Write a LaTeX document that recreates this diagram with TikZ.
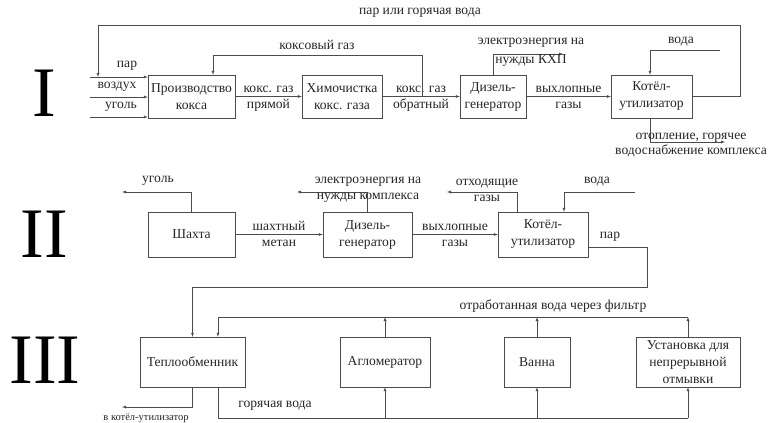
\documentclass[tikz,border=0pt]{standalone}
\usepackage{fontspec}
\setmainfont{Liberation Serif}
\usetikzlibrary{calc,shapes,arrows,positioning}

\tikzset{
  blk/.style={draw=black!70, align=center, inner sep=1pt, text=black!85,
    font=\fontsize{13.6}{17}\selectfont},
  lbl/.style={align=center, inner sep=1pt, text=black!85,
    font=\fontsize{13.6}{16}\selectfont},
  up/.style={lbl, midway, above, inner sep=1pt, text height=9.5pt, text depth=3pt},
  dn/.style={lbl, midway, below, inner sep=2pt, text height=9.5pt, text depth=3pt},
  flow/.style={draw=black!70, -latex},
  pipe/.style={draw=black!70},
  roman/.style={inner sep=0pt, font=\fontsize{71}{71}\selectfont}
}

\begin{document}
\begin{tikzpicture}[x=1pt,y=-1pt]
  \useasboundingbox (0,0) rectangle (769,423);

  % --- I ---
  \node[roman] (r1) at (44,93.5) {I};
  \node[blk, minimum width=87, minimum height=43] (prod) at (191.5,96.5) {Производство\\кокса};
  \node[blk, minimum width=80, minimum height=43] (chem) at (342,96.5) {Химочистка\\кокс. газа};
  \node[blk, minimum width=66, minimum height=43] (dg1) at (493,96.5) {Дизель-\\генератор};
  \node[blk, minimum width=81, minimum height=43] (ku1) at (651.5,96.5) {Котёл-\\утилизатор};

  \coordinate (inpar) at (90,77);
  \coordinate (inair) at (90,97);
  \coordinate (incoal) at (90,117);
  \draw[flow] (inpar) -- (prod.west |- inpar);
  \draw[flow] (inair) -- (prod.west |- inair);
  \draw[flow] (incoal) -- (prod.west |- incoal);
  \node[lbl] (lpar) at (127,66) {пар};
  \node[lbl] (lair) at (117,87) {воздух};
  \node[lbl] (lcoal) at (121,107) {уголь};

  \draw[flow] (prod) -- (chem) node[up] {кокс. газ} node[dn] {прямой};
  \draw[flow] (chem) -- (dg1) node[up] {кокс. газ} node[dn] {обратный};
  \draw[flow] (dg1) -- (ku1) node[up] {выхлопные} node[dn] {газы};

  \coordinate (cgsplit) at (422,96.5);
  \draw[flow] (cgsplit) -- (cgsplit |- 0,55) -| ($(prod.north)+(21.5,0)$);
  \node[lbl] (lcg) at (317,45) {коксовый газ};

  \coordinate (topR) at (740,25);
  \coordinate (parjoin) at (98,77);
  \draw[flow] (ku1.east) -| (topR) -| (parjoin);
  \node[lbl] (lsteam) at (420,13) {пар или горячая вода};

  \draw[flow] (dg1.north) |- (563,54);
  \node[lbl, font=\fontsize{13.6}{19}\selectfont] (lel1) at (531,52) {электроэнергия на\\нужды КХП};

  \coordinate (voda1) at (720,50);
  \draw[flow] (voda1) -| ($(ku1.north)+(-1.5,0)$);
  \node[lbl] (lvoda1) at (681,42) {вода};

  \draw[flow] ($(ku1.south)+(-1.5,0)$) |- (725,142);
  \node[lbl, font=\fontsize{13.6}{15}\selectfont] (lheat) at (691,145) {отопление, горячее\\водоснабжение комплекса};

  % --- II ---
  \node[roman] (r2) at (44.5,234) {II};
  \node[blk, minimum width=87, minimum height=45] (mine) at (191.5,234.5) {Шахта};
  \node[blk, minimum width=89, minimum height=45] (dg2) at (367.5,234.5) {Дизель-\\генератор};
  \node[blk, minimum width=90, minimum height=45] (ku2) at (543,234.5) {Котёл-\\утилизатор};

  \draw[flow] (mine) -- (dg2) node[up] {шахтный} node[dn] {метан};
  \draw[flow] (dg2) -- (ku2) node[up] {выхлопные} node[dn] {газы};

  \draw[flow] (mine.north) |- (122,192);
  \node[lbl] (lcoal2) at (158,181) {уголь};
  \draw[flow] (dg2.north) |- (297,192);
  \node[lbl] (lel2) at (368,190) {электроэнергия на\\нужды комплекса};
  \draw[flow] ($(ku2.north)+(-26,0)$) |- (447,192);
  \node[lbl] (lflue) at (487,190) {отходящие\\газы};
  \coordinate (voda2) at (635,192);
  \draw[flow] (voda2) -| ($(ku2.north)+(21,0)$);
  \node[lbl] (lvoda2) at (597,182) {вода};

  % --- III ---
  \node[roman] (r3) at (45,360.5) {III};
  \node[blk, minimum width=105, minimum height=50] (heat) at (192.5,362) {Теплообменник};
  \node[blk, minimum width=90, minimum height=50] (aglo) at (385,362) {Агломератор};
  \node[blk, minimum width=66, minimum height=50] (bath) at (537,362) {Ванна};
  \node[blk, minimum width=104, minimum height=50] (wash) at (688,362) {Установка для\\непрерывной\\отмывки};

  \draw[flow] ($(ku2.east)+(0,12.5)$) -| (647,287) -| (heat.north);
  \node[lbl] (lsteam2) at (610,237) {пар};

  \coordinate (filt) at (0,317);
  \coordinate (hot) at (0,418);
  \foreach \b in {aglo,bath,wash}
    \draw[flow] (\b.north) -- (\b.north |- filt);
  \draw[flow] (wash.north |- filt) -| ($(heat.north)+(25.5,0)$);
  \node[lbl] (lfilt) at (553,306) {отработанная вода через фильтр};

  \draw[pipe] ($(heat.south)+(25.5,0)$) |- (wash.south |- hot);
  \foreach \b in {aglo,bath,wash}
    \draw[flow] (\b.south |- hot) -- (\b.south);
  \node[lbl] (lhot) at (275,406) {горячая вода};

  \draw[flow] (heat.south) |- (122,407);
  \node[lbl, font=\fontsize{10.5}{12}\selectfont] (lback) at (146,418) {в котёл-утилизатор};
\end{tikzpicture}
\end{document}
